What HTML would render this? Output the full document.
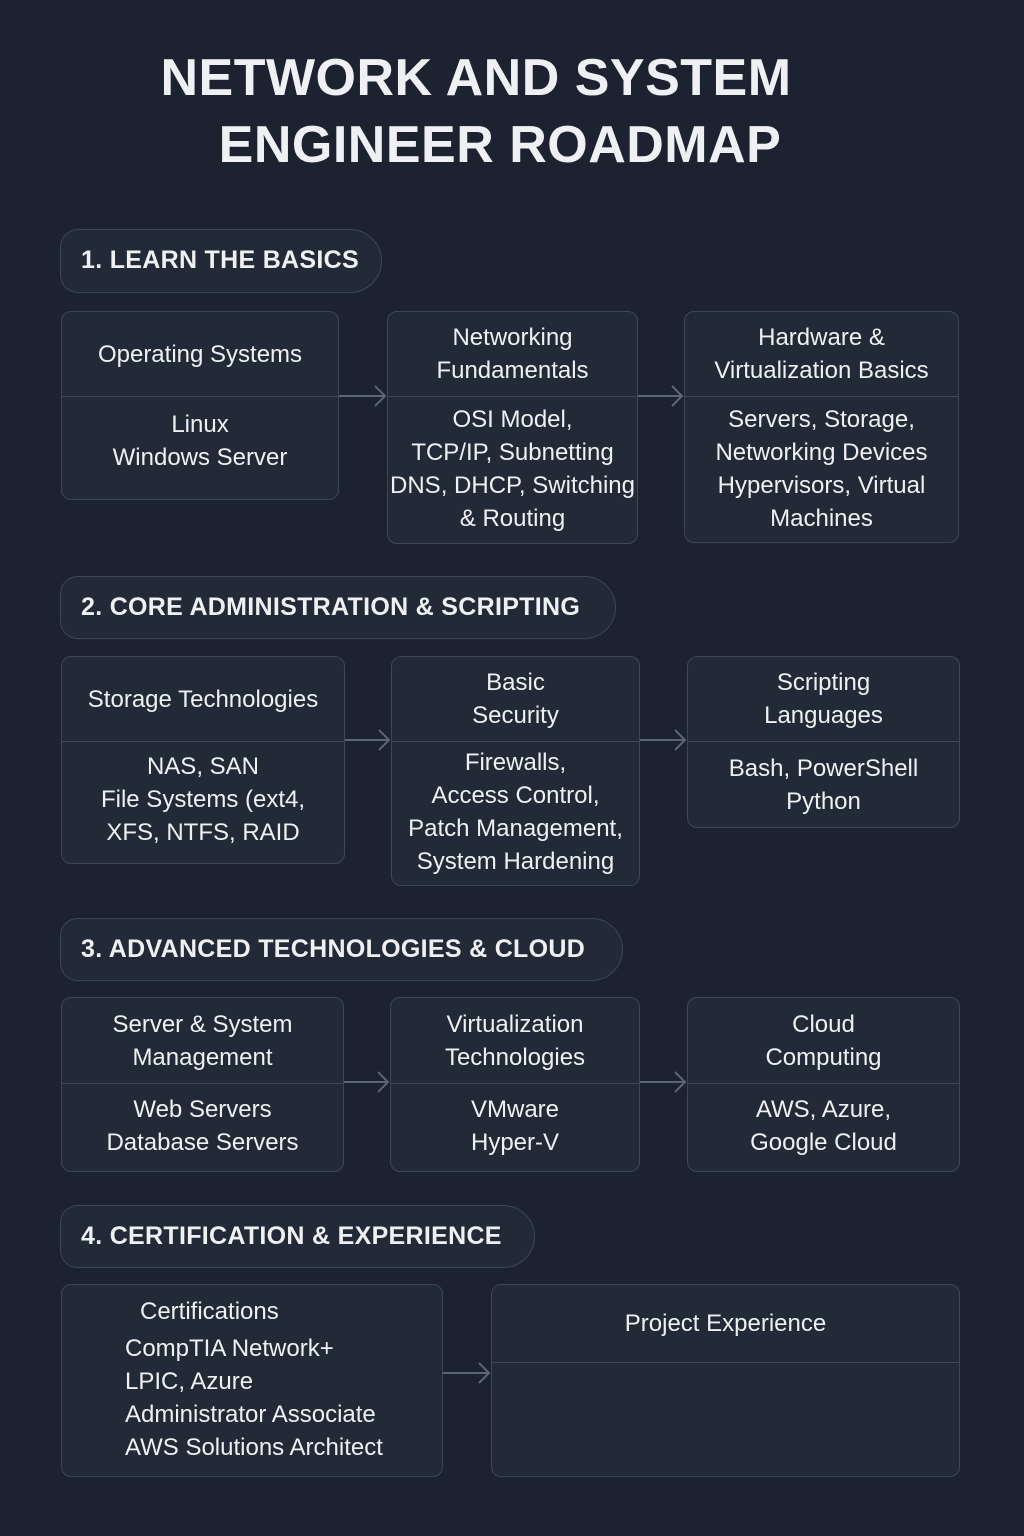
<!DOCTYPE html><html><head><style>
body{margin:0;width:1024px;height:1536px;background:#1c2230;font-family:"Liberation Sans",sans-serif;color:#eef0f3;position:relative;overflow:hidden}
.t{position:absolute;left:0;width:1024px;text-align:center;font-weight:bold;font-size:52px;letter-spacing:0.5px}
.h{position:absolute;border:1.5px solid #3d4757;background:#222a38;border-radius:18px 32px 32px 18px;box-sizing:border-box;font-weight:bold;font-size:25px;line-height:60px;padding-left:20px;letter-spacing:.3px}
.b{position:absolute;border:1.5px solid #3d4757;background:#222a37;border-radius:10px;box-sizing:border-box;font-size:24px;text-align:center;line-height:33px}
.b .d{position:absolute;left:0;right:0;border-top:1.5px solid #3d4757}
.b .p{position:absolute;left:0;right:0;display:flex;align-items:center;justify-content:center;flex-direction:column}
svg{position:absolute;left:0;top:0}
</style></head><body>
<div class="t" style="top:48px;left:-36px">NETWORK AND SYSTEM</div>
<div class="t" style="top:115px;left:-12px">ENGINEER ROADMAP</div>

<div class="h" style="left:60px;top:229px;width:322px;height:64px">1. LEARN THE BASICS</div>
<div class="b" style="left:61px;top:311px;width:278px;height:189px"><div class="p" style="top:0;height:84px">Operating Systems</div><div class="d" style="top:84px"></div><div class="p" style="top:84px;height:90px">Linux<br>Windows Server</div></div>
<div class="b" style="left:387px;top:311px;width:251px;height:233px"><div class="p" style="top:0;height:84px">Networking<br>Fundamentals</div><div class="d" style="top:84px"></div><div class="p" style="top:84px;height:146px">OSI Model,<br>TCP/IP, Subnetting<br>DNS, DHCP, Switching<br>&amp; Routing</div></div>
<div class="b" style="left:684px;top:311px;width:275px;height:232px"><div class="p" style="top:0;height:84px">Hardware &amp;<br>Virtualization Basics</div><div class="d" style="top:84px"></div><div class="p" style="top:84px;height:146px">Servers, Storage,<br>Networking Devices<br>Hypervisors, Virtual<br>Machines</div></div>

<div class="h" style="left:60px;top:576px;width:556px;height:63px">2. CORE ADMINISTRATION &amp; SCRIPTING</div>
<div class="b" style="left:61px;top:656px;width:284px;height:208px"><div class="p" style="top:0;height:84px">Storage Technologies</div><div class="d" style="top:84px"></div><div class="p" style="top:84px;height:116px">NAS, SAN<br>File Systems (ext4,<br>XFS, NTFS, RAID</div></div>
<div class="b" style="left:391px;top:656px;width:249px;height:230px"><div class="p" style="top:0;height:84px">Basic<br>Security</div><div class="d" style="top:84px"></div><div class="p" style="top:84px;height:142px">Firewalls,<br>Access Control,<br>Patch Management,<br>System Hardening</div></div>
<div class="b" style="left:687px;top:656px;width:273px;height:172px"><div class="p" style="top:0;height:84px">Scripting<br>Languages</div><div class="d" style="top:84px"></div><div class="p" style="top:84px;height:88px">Bash, PowerShell<br>Python</div></div>

<div class="h" style="left:60px;top:918px;width:563px;height:63px">3. ADVANCED TECHNOLOGIES &amp; CLOUD</div>
<div class="b" style="left:61px;top:997px;width:283px;height:175px"><div class="p" style="top:0;height:85px">Server &amp; System<br>Management</div><div class="d" style="top:85px"></div><div class="p" style="top:85px;height:86px">Web Servers<br>Database Servers</div></div>
<div class="b" style="left:390px;top:997px;width:250px;height:175px"><div class="p" style="top:0;height:85px">Virtualization<br>Technologies</div><div class="d" style="top:85px"></div><div class="p" style="top:85px;height:86px">VMware<br>Hyper-V</div></div>
<div class="b" style="left:687px;top:997px;width:273px;height:175px"><div class="p" style="top:0;height:85px">Cloud<br>Computing</div><div class="d" style="top:85px"></div><div class="p" style="top:85px;height:86px">AWS, Azure,<br>Google Cloud</div></div>

<div class="h" style="left:60px;top:1205px;width:475px;height:63px">4. CERTIFICATION &amp; EXPERIENCE</div>
<div class="b" style="left:61px;top:1284px;width:382px;height:193px;text-align:left"><div style="position:absolute;left:78px;top:10px">Certifications</div><div style="position:absolute;left:63px;top:47px">CompTIA Network+<br>LPIC, Azure<br>Administrator Associate<br>AWS Solutions Architect</div></div>
<div class="b" style="left:491px;top:1284px;width:469px;height:193px"><div class="p" style="top:0;height:77px">Project Experience</div><div class="d" style="top:77px"></div></div>

<svg width="1024" height="1536" fill="none" stroke="#5a6676" stroke-width="2">
<path d="M339 396H385M375 386l10 10-10 10"/><path d="M638 396H682M672 386l10 10-10 10"/>
<path d="M345 740H389M379 730l10 10-10 10"/><path d="M640 740H685M675 730l10 10-10 10"/>
<path d="M344 1082H388M378 1072l10 10-10 10"/><path d="M640 1082H685M675 1072l10 10-10 10"/>
<path d="M443 1373H489M479 1363l10 10-10 10"/>
</svg>
</body></html>
